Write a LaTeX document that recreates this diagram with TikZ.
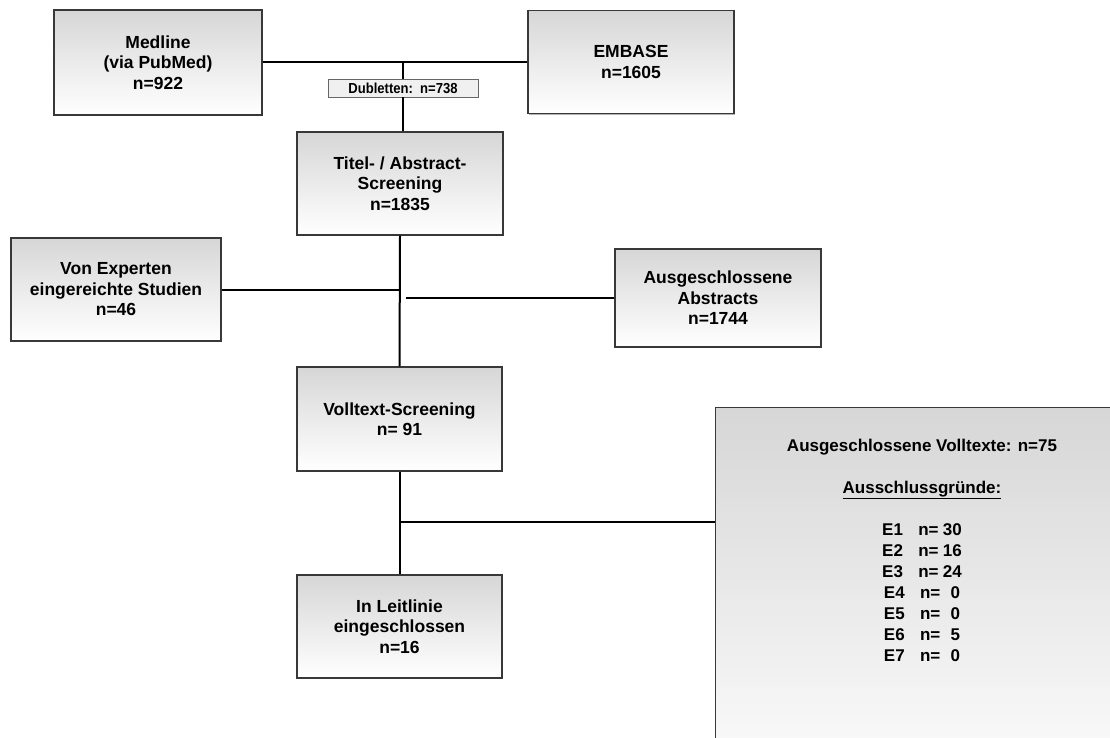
\documentclass[tikz,border=0pt]{standalone}
\usepackage{fontspec}
\setmainfont{Liberation Sans}
\newfontfamily\dubfont{Liberation Sans}[FakeStretch=0.9]
\usetikzlibrary{shadows}

\tikzset{
  flowbox/.style={draw=black!78, line width=1.3pt,
    top color=black!16, bottom color=white,
    drop shadow={shadow xshift=1.4pt, shadow yshift=-1.4pt, opacity=0.3, fill=black},
    align=center, inner sep=0pt,
    font=\fontsize{17.5}{20.5}\selectfont\bfseries},
  dubbox/.style={draw=black!60, line width=0.8pt, fill=black!6,
    minimum width=150pt, minimum height=18pt, inner sep=0pt,
    font=\dubfont\fontsize{14.5}{15}\selectfont\bfseries},
  listtext/.style={anchor=base, inner sep=0pt,
    font=\fontsize{17}{21}\selectfont\bfseries},
  link/.style={line width=2pt, black}
}

\begin{document}
\begin{tikzpicture}[x=1pt, y=-1pt]
\clip (0,0) rectangle (1110,738);
\fill[white] (0,0) rectangle (1110,738);

% sources
\node[flowbox, minimum width=208pt, minimum height=105pt] (medline) at (158,62.5)
  {Medline\\(via PubMed)\\n=922};
\node[flowbox, minimum width=206pt, minimum height=103pt] (embase) at (631,62)
  {EMBASE\\n=1605};

% duplicates label
\node[dubbox] (dub) at (403,88) {Dubletten:\ \ n=738};

% main column
\node[flowbox, minimum width=206pt, minimum height=103pt] (titel) at (400,183.5)
  {Titel- / Abstract-\\Screening\\n=1835};
\node[flowbox, minimum width=210pt, minimum height=103pt] (experten) at (116,289.5)
  {Von Experten\\eingereichte Studien\\n=46};
\node[flowbox, minimum width=206pt, minimum height=98pt] (abstracts) at (718,298)
  {Ausgeschlossene\\Abstracts\\n=1744};
\node[flowbox, minimum width=205pt, minimum height=104pt] (volltext) at (399.5,419)
  {Volltext-Screening\\n= 91};
\node[flowbox, minimum width=205pt, minimum height=103pt] (leitlinie) at (399.5,626.5)
  {In Leitlinie\\eingeschlossen\\n=16};

% exclusion reasons box (runs off the page)
\node[flowbox, minimum width=414pt, minimum height=400pt, anchor=north west] (excl) at (715,407) {};
\node[listtext] (exhead) at (922,451) {Ausgeschlossene Volltexte: n=75};
\node[listtext] (exreason) at (922,493) {\underline{Ausschlussgründe:}};
\node[listtext] (e1) at (922,535) {E1\hspace{0.9em}n=\hspace{0.25em}30};
\node[listtext] (e2) at (922,556) {E2\hspace{0.9em}n=\hspace{0.25em}16};
\node[listtext] (e3) at (922,577) {E3\hspace{0.9em}n=\hspace{0.25em}24};
\node[listtext] (e4) at (922,598) {E4\hspace{0.9em}n=\hspace{0.6em}0};
\node[listtext] (e5) at (922,619) {E5\hspace{0.9em}n=\hspace{0.6em}0};
\node[listtext] (e6) at (922,640) {E6\hspace{0.9em}n=\hspace{0.6em}5};
\node[listtext] (e7) at (922,661) {E7\hspace{0.9em}n=\hspace{0.6em}0};

% connectors
\coordinate (merge) at (dub.north |- medline.east);
\draw[link] (medline.east) -- (medline.east -| embase.west);
\draw[link] (merge) -- (dub.north);
\draw[link] (dub.south) -- (dub.south |- titel.north);
\draw[link] (titel.south) -- (volltext.north);
\coordinate (expjoin) at (titel.south |- experten.east);
\draw[link] (experten.east) -- (expjoin);
\coordinate (absjoin) at ([xshift=6pt]titel.south |- abstracts.west);
\draw[link] (absjoin) -- (abstracts.west);
\draw[link] (volltext.south) -- (leitlinie.north);
\coordinate (vtjoin) at (399.5,522);
\draw[link] (vtjoin) -- (vtjoin -| excl.west);
\end{tikzpicture}
\end{document}
